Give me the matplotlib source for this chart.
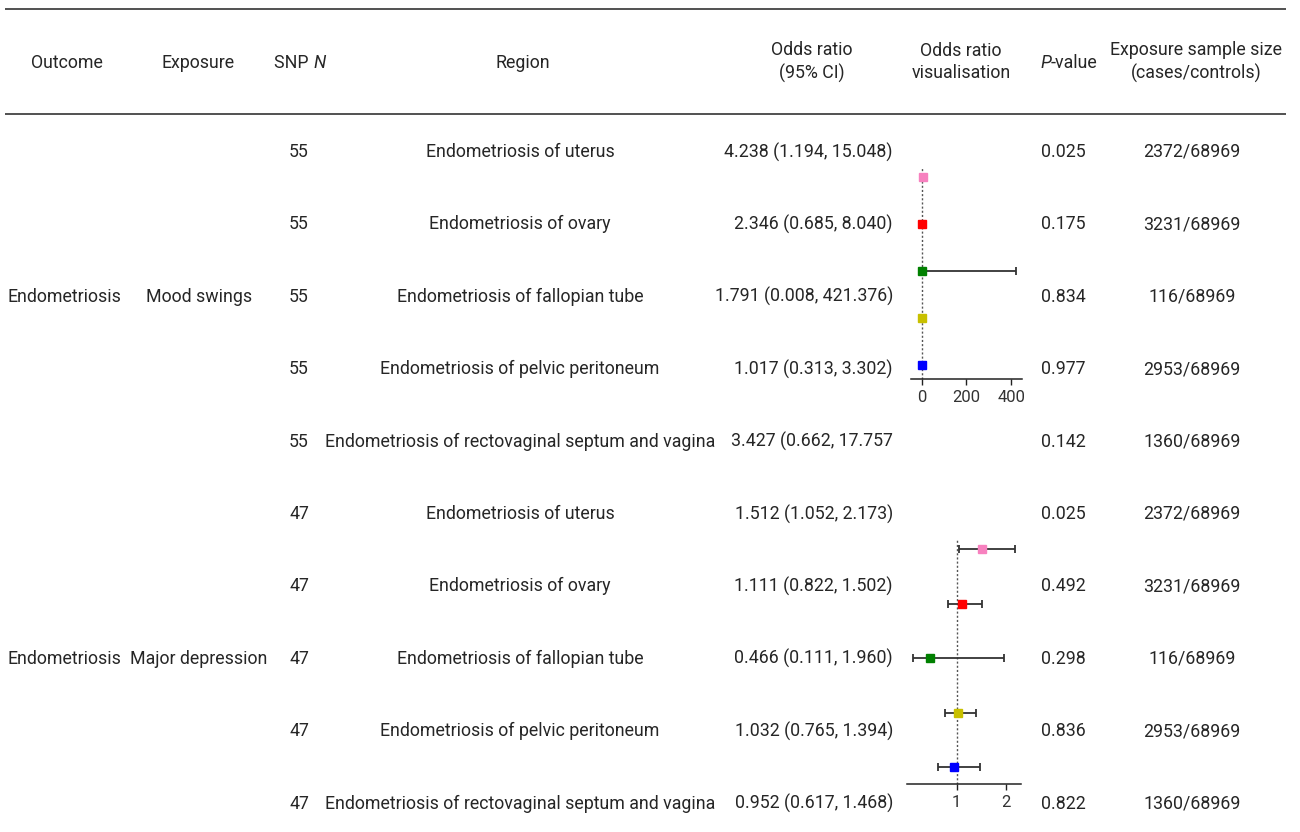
import matplotlib
matplotlib.use("Agg")
import matplotlib.pyplot as plt

plt.rcParams['font.family'] = ['Roboto', 'DejaVu Sans']

# ---------------- data ----------------
outcomes = ["Endometriosis", "Endometriosis"]
exposures = ["Mood swings", "Major depression"]
snp_n = [55, 47]
regions = ["Endometriosis of uterus",
           "Endometriosis of ovary",
           "Endometriosis of fallopian tube",
           "Endometriosis of pelvic peritoneum",
           "Endometriosis of rectovaginal septum and vagina"]
odds_ratio = [[4.238, 2.346, 1.791, 1.017, 3.427],
              [1.512, 1.111, 0.466, 1.032, 0.952]]
ci_lower = [[1.194, 0.685, 0.008, 0.313, 0.662],
            [1.052, 0.822, 0.111, 0.765, 0.617]]
ci_upper = [[15.048, 8.040, 421.376, 3.302, 17.757],
            [2.173, 1.502, 1.960, 1.394, 1.468]]
or_labels = [["4.238 (1.194, 15.048)", "2.346 (0.685, 8.040)",
              "1.791 (0.008, 421.376)", "1.017 (0.313, 3.302)",
              "3.427 (0.662, 17.757"],
             ["1.512 (1.052, 2.173)", "1.111 (0.822, 1.502)",
              "0.466 (0.111, 1.960)", "1.032 (0.765, 1.394)",
              "0.952 (0.617, 1.468)"]]
p_values = [["0.025", "0.175", "0.834", "0.977", "0.142"],
            ["0.025", "0.492", "0.298", "0.836", "0.822"]]
sample_sizes = ["2372/68969", "3231/68969", "116/68969", "2953/68969", "1360/68969"]
marker_colors = ["#f781bf", "#ff0000", "#008000", "#c8c000", "#0000ff"]
panel_xlim = [(-49, 447), (-0.01, 2.30)]
panel_xticks = [[0, 200, 400], [1, 2]]

# ---------------- layout ----------------
W, H = 1300, 832
fig = plt.figure(figsize=(W / 100, H / 100), dpi=100)
bg = fig.add_axes([0, 0, 1, 1])
bg.set_xlim(0, W)
bg.set_ylim(H, 0)
bg.axis('off')
renderer = fig.canvas.get_renderer()

txt_color = '#262626'
fs = 12.8

def put(x, y, s, ha='center', **kw):
    return bg.text(x, y, s, ha=ha, va='center', fontsize=fs, color=txt_color, **kw)

def put_segments(xc, y, segs):
    """Draw consecutive segments (text, style) centred at xc."""
    arts = [put(0, y, s, ha='left', style=st) for s, st in segs]
    widths = [a.get_window_extent(renderer).width for a in arts]
    x = xc - sum(widths) / 2
    for a, w in zip(arts, widths):
        a.set_x(x)
        x += w

# rules
for yy in (8.5, 114):
    bg.plot([5, 1286], [yy, yy], color='#333333', lw=1.2, solid_capstyle='butt')

# headers
put(67, 63, "Outcome")
put(198, 63, "Exposure")
put(523, 63, "Region")
put_segments(300, 63, [("SNP ", 'normal'), ("N", 'italic')])
put(812, 62, "Odds ratio\n(95% CI)", linespacing=1.3)
put(961, 62, "Odds ratio\nvisualisation", linespacing=1.3)
put_segments(1069, 63, [("P", 'italic'), ("-value", 'normal')])
put(1196, 62, "Exposure sample size\n(cases/controls)", linespacing=1.3)

row_y0 = [152, 514]
row_dy = 72.4
# forest panel pixel boxes: (left, top, right, bottom)
panel_box = [(910.7, 168, 1021.7, 379), (906.7, 540, 1021.0, 784)]
panel_ylim = [(4.30, -0.19), (4.31, -0.165)]

for g in range(2):
    ys = [row_y0[g] + i * row_dy for i in range(5)]
    put(64, ys[2], outcomes[g])
    put(199, ys[2], exposures[g])
    for i in range(5):
        put(299, ys[i], str(snp_n[g]))
        put(520, ys[i], regions[i])
        put(893, ys[i], or_labels[g][i], ha='right')
        put(1063, ys[i], p_values[g][i])
        put(1192, ys[i], sample_sizes[i])

    l, t, r, b = panel_box[g]
    ax = fig.add_axes([l / W, 1 - b / H, (r - l) / W, (b - t) / H])
    ax.patch.set_alpha(0)
    ax.axvline(1, color='#555555', ls=(0, (1.5, 1.5)), lw=1.0, zorder=1)
    for i in range(5):
        ax.errorbar(odds_ratio[g][i], i,
                    xerr=[[odds_ratio[g][i] - ci_lower[g][i]], [ci_upper[g][i] - odds_ratio[g][i]]],
                    fmt='none', ecolor='#333333', elinewidth=1.3, capsize=3.2, capthick=1.3, zorder=2)
        ax.plot(odds_ratio[g][i], i, marker='s', ms=5.2, color=marker_colors[i],
                mec=marker_colors[i], ls='none', zorder=3)
    ax.set_xlim(*panel_xlim[g])
    ax.set_ylim(*panel_ylim[g])
    ax.set_xticks(panel_xticks[g])
    ax.set_yticks([])
    for s in ('left', 'right', 'top'):
        ax.spines[s].set_visible(False)
    ax.spines['bottom'].set_color('#222222')
    ax.spines['bottom'].set_linewidth(1.1)
    ax.tick_params(axis='x', length=4, width=1, colors='#222222', labelsize=12,
                   labelcolor='#333333', pad=4)

fig.savefig("out.png", dpi=100)
